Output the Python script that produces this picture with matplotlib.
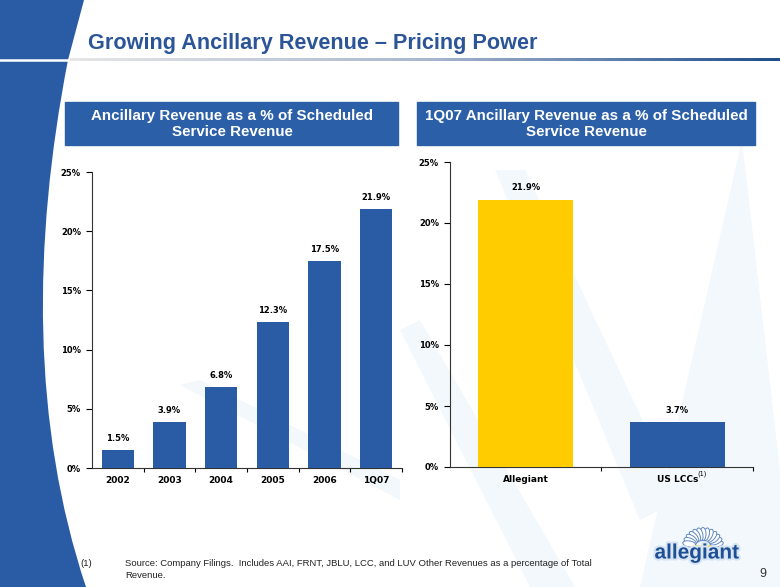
import numpy as np
import matplotlib
matplotlib.use("Agg")
import matplotlib.pyplot as plt
from matplotlib.patches import Polygon, Rectangle, PathPatch, Wedge, Ellipse
from matplotlib.path import Path
from matplotlib.colors import LinearSegmentedColormap
import matplotlib.patheffects as pe

# data
years = ["2002", "2003", "2004", "2005", "2006", "1Q07"]
ancillary_pct = [1.5, 3.9, 6.8, 12.3, 17.5, 21.9]
carriers = ["Allegiant", "US LCCs"]
carrier_pct = [21.9, 3.7]
y_ticks = [0, 5, 10, 15, 20, 25]

W, H = 780, 587
BLUE = "#2A5CA5"
HEAD = "#2B60A9"
TITLE = "#2B5597"
YELLOW = "#FFCC00"

plt.rcParams['font.family'] = ['Liberation Sans', 'DejaVu Sans']

fig = plt.figure(figsize=(7.8, 5.87), dpi=100)

# background layer in pixel coords
bg = fig.add_axes([0, 0, 1, 1], zorder=0)
bg.set_xlim(0, W)
bg.set_ylim(H, 0)
bg.axis("off")

# faint watermark shapes
light = "#F3F8FC"
for pts in [
    [(742, 140), (780, 470), (780, 587), (640, 587)],
    [(495, 170), (525, 170), (680, 500), (640, 520)],
    [(400, 330), (420, 320), (575, 587), (530, 587)],
    [(180, 385), (200, 380), (400, 480), (400, 500)],
]:
    bg.add_patch(Polygon(pts, closed=True, color=light, lw=0, zorder=0))

# left sidebar
verts = [(0, 0), (84, 0), (68, 60), (32, 245), (32, 425), (86, 587), (0, 587), (0, 0)]
codes = [Path.MOVETO, Path.LINETO, Path.LINETO, Path.CURVE4, Path.CURVE4, Path.CURVE4,
         Path.LINETO, Path.CLOSEPOLY]
bg.add_patch(PathPatch(Path(verts, codes), facecolor=BLUE, edgecolor="none", zorder=1))
bg.plot([0, 70], [60, 60], color="white", lw=1.8, zorder=2)

# gradient rule under the title
cmap = LinearSegmentedColormap.from_list("rule", ["#E6E6E6", "#A9B8CF", "#1F4E8C"])
grad = np.linspace(0, 1, 300).reshape(1, -1)
bg.imshow(grad, cmap=cmap, extent=(70, W, 61.5, 58.5), aspect="auto", zorder=2)
bg.set_xlim(0, W)
bg.set_ylim(H, 0)

# title
bg.text(88, 43, "Growing Ancillary Revenue \u2013 Pricing Power", color=TITLE,
        fontsize=15.6, fontweight="bold", va="center", ha="left", zorder=3)

# header boxes
bg.add_patch(Rectangle((65, 102), 333, 43, color=HEAD, zorder=2))
bg.add_patch(Rectangle((417, 102), 338, 43, color=HEAD, zorder=2))
bg.text(232, 124, "Ancillary Revenue as a % of Scheduled\nService Revenue", color="white",
        fontsize=10.9, fontweight="bold", ha="center", va="center", linespacing=1.25, zorder=3)
bg.text(586, 124, "1Q07 Ancillary Revenue as a % of Scheduled\nService Revenue", color="white",
        fontsize=10.9, fontweight="bold", ha="center", va="center", linespacing=1.25, zorder=3)

# footnote
bg.text(80, 563, "(1)", fontsize=6.8, color="#222222", va="center", zorder=3)
bg.text(125, 563, "Source: Company Filings.  Includes AAI, FRNT, JBLU, LCC, and LUV Other Revenues as a percentage of Total",
        fontsize=6.8, color="#222222", va="center", zorder=3)
bg.text(125, 575, "Revenue.", fontsize=6.8, color="#222222", va="center", zorder=3)
bg.text(763, 574, "9", fontsize=9, color="#333333", va="center", ha="center", zorder=3)

# logo: daisy petals behind a yellow sun, then the word mark
cx, cy = 703, 546
for ang in np.linspace(10, 170, 13):
    r = np.deg2rad(ang)
    bg.add_patch(Ellipse((cx + 14 * np.cos(r), cy - 12 * np.sin(r)), 6, 13,
                         angle=90 - ang, facecolor="white", edgecolor="#5F88C2",
                         lw=0.7, zorder=2))
bg.add_patch(Wedge((cx, cy), 9, 0, 180, color="#FFD21F", zorder=3))
bg.text(697, 553, "allegiant", fontsize=15, fontweight="bold", color="#1E4F96",
        ha="center", va="center", zorder=4,
        path_effects=[pe.withStroke(linewidth=3, foreground="#D8E6F4")])

tick_font = dict(family="DejaVu Sans", fontweight="bold", fontsize=6)


def style_axes(ax, n):
    ax.patch.set_alpha(0)
    ax.set_ylim(0, 25)
    ax.set_yticks(y_ticks)
    ax.set_yticklabels([f"{t}%" for t in y_ticks], **tick_font)
    ax.set_xlim(-0.5, n - 0.5)
    ax.set_xticks(range(n))
    ax.set_xticks([i + 0.5 for i in range(n)], minor=True)
    ax.tick_params(axis="x", which="major", length=0, pad=6)
    ax.tick_params(axis="x", which="minor", length=3, width=0.8, direction="out")
    ax.tick_params(axis="y", length=4, width=0.8, direction="out", pad=4)
    for s in ["top", "right"]:
        ax.spines[s].set_visible(False)
    for s in ["left", "bottom"]:
        ax.spines[s].set_linewidth(0.8)
        ax.spines[s].set_color("#333333")


# left chart
ax1 = fig.add_axes([92 / W, 1 - 468 / H, 310 / W, 296 / H], zorder=2)
x1 = np.arange(len(years))
ax1.bar(x1, ancillary_pct, width=0.62, color=BLUE, zorder=3)
style_axes(ax1, len(years))
ax1.set_xticklabels(years, family="DejaVu Sans", fontweight="bold", fontsize=6.5)
for xi, v in zip(x1, ancillary_pct):
    ax1.text(xi, v + 0.6, f"{v:.1f}%", ha="center", va="bottom", **tick_font)

# right chart
ax2 = fig.add_axes([450 / W, 1 - 467 / H, 303 / W, 305 / H], zorder=2)
x2 = np.arange(len(carriers))
ax2.bar(x2, carrier_pct, width=0.63, color=[YELLOW, BLUE], zorder=3)
style_axes(ax2, len(carriers))
ax2.set_xticklabels(carriers, family="DejaVu Sans", fontweight="bold", fontsize=6.5)
ax2.text(1.165, -0.55, "(1)", fontsize=4.8, ha="center", va="center", family="DejaVu Sans")
for xi, v in zip(x2, carrier_pct):
    ax2.text(xi, v + 0.6, f"{v:.1f}%", ha="center", va="bottom", **tick_font)

fig.savefig("out.png", dpi=100)
